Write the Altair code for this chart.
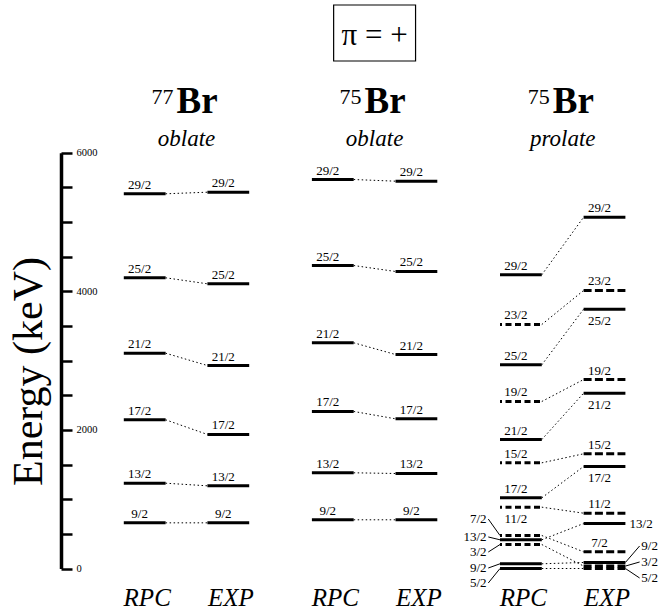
import altair as alt
import pandas as pd

# ---- level energies (keV) ----
oblate_spins = ["9/2", "13/2", "17/2", "21/2", "25/2", "29/2"]
br77_oblate_rpc = [659, 1231, 2146, 3107, 4195, 5407]
br77_oblate_exp = [659, 1193, 1934, 2929, 4108, 5430]
br75_oblate_rpc = [703, 1381, 2266, 3257, 4372, 5613]
br75_oblate_exp = [703, 1371, 2160, 3088, 4286, 5589]

prolate_spins = ["5/2", "9/2", "3/2", "13/2", "7/2", "11/2", "17/2",
                 "15/2", "21/2", "19/2", "25/2", "23/2", "29/2"]
br75_prolate_rpc = [0, 68, 346, 414, 476, 885, 1020, 1525, 1861, 2410, 2939, 3521, 4238]
br75_prolate_exp = [0, 87, 35, 649, 241, 798, 1472, 1655, 2530, 2727, 3742, 4012, 5069]

# unfavoured-signature members are drawn dashed
prolate_dashed_rpc = ["3/2", "7/2", "11/2", "15/2", "19/2", "23/2"]
prolate_dashed_exp = ["5/2", "3/2", "7/2", "11/2", "15/2", "19/2", "23/2"]

nuclei = ["77", "75", "75"]
shapes = ["oblate", "oblate", "prolate"]
methods = ["RPC", "EXP"]
axis_ticks = list(range(0, 6001, 500))

# ---- label placement in the crowded prolate scheme ----
# "lead" labels sit away from the level (position in keV) joined by a leader line
prolate_place_rpc = {"11/2": ("below", None), "7/2": ("lead", 714), "13/2": ("lead", 455),
                     "3/2": ("lead", 238), "9/2": ("lead", 7), "5/2": ("lead", -209)}
prolate_place_exp = {"25/2": ("below", None), "21/2": ("below", None), "17/2": ("below", None),
                     "13/2": ("right", None), "9/2": ("lead", 325), "3/2": ("lead", 94),
                     "5/2": ("lead", -137)}

GROUP_STEP = 2.25   # horizontal distance between schemes, in column units
HALF = 0.25         # half length of a level line

rows = []


def add_levels(g, s, spins, energies, dashed, place):
    u = GROUP_STEP * g + s
    for sp, e in zip(spins, energies):
        kind, lab_e = place.get(sp, ("above", None))
        if kind == "lead":
            lead_from = u - HALF if s == 0 else u + HALF
            lead_to = u - HALF - 0.14 if s == 0 else u + HALF + 0.17
            lab_u = u - HALF - 0.16 if s == 0 else u + HALF + 0.19
        else:
            lead_from = lead_to = lab_u = None
        rows.append(dict(g=g, side=methods[s], spin=sp, E=e, u=u,
                         x1=u - HALF, x2=u + HALF, lab_x=u - 0.06,
                         right_x=u + HALF + 0.05,
                         dashed=sp in dashed, place=kind, labE=lab_e,
                         lead_from=lead_from, lead_to=lead_to, lab_u=lab_u))


add_levels(0, 0, oblate_spins, br77_oblate_rpc, [], {})
add_levels(0, 1, oblate_spins, br77_oblate_exp, [], {})
add_levels(1, 0, oblate_spins, br75_oblate_rpc, [], {})
add_levels(1, 1, oblate_spins, br75_oblate_exp, [], {})
add_levels(2, 0, prolate_spins, br75_prolate_rpc, prolate_dashed_rpc, prolate_place_rpc)
add_levels(2, 1, prolate_spins, br75_prolate_exp, prolate_dashed_exp, prolate_place_exp)

levels = pd.DataFrame(rows)

# dotted links between calculated and measured levels of equal spin
rpc = levels[levels.side == "RPC"][["g", "spin", "E", "x2"]]
exp = levels[levels.side == "EXP"][["g", "spin", "E", "x1"]]
links = rpc.merge(exp, on=["g", "spin"], suffixes=("_rpc", "_exp"))

heads = pd.DataFrame({
    "mid": [GROUP_STEP * g + 0.5 for g in range(3)],
    "A": nuclei,
    "shape": shapes,
})
cols = pd.DataFrame({
    "u": [GROUP_STEP * g + s + 0.03 for g in range(3) for s in range(2)],
    "name": [methods[s] for g in range(3) for s in range(2)],
})

xs = alt.Scale(domain=[0, 1], range=[144.7, 228.3], zero=False, nice=False)
ys = alt.Scale(domain=[0, 6000], range=[568.5, 152.7], zero=False, nice=False)

SERIF = "Liberation Serif"
AXIS_OFFSET = -602   # pulls the energy axis in from the right edge

y_axis = alt.Axis(
    orient="right", offset=AXIS_OFFSET, values=axis_ticks, format="d",
    labelExpr="datum.value % 2000 === 0 ? datum.label : ''",
    grid=False, domain=True, domainWidth=3.5, domainColor="black",
    tickWidth=2.5, tickSize=11, tickColor="black",
    labelFont=SERIF, labelFontSize=10.5, labelColor="black", labelPadding=4,
    labelBaseline="middle", zindex=1,
    title="Energy (keV)", titleFont=SERIF, titleFontSize=42,
    titleFontWeight="normal", titleColor="black", titleAngle=270,
    titleX=-33, titleY=371, titleAlign="center", titleBaseline="middle",
)

X = lambda f: alt.X(f, scale=xs, axis=None)
Y = lambda f: alt.Y(f, scale=ys)

base = alt.Chart(levels)

solid = base.transform_filter("!datum.dashed").mark_rule(
    color="black", strokeWidth=3).encode(
    x=X("x1:Q"), x2="x2:Q",
    y=alt.Y("E:Q", scale=ys, axis=y_axis),
)
dashed_rpc = base.transform_filter("datum.dashed && datum.side == 'RPC'").mark_rule(
    color="black", strokeWidth=3, strokeDash=[6, 3.5], strokeDashOffset=4).encode(
    x=X("x1:Q"), x2="x2:Q", y=Y("E:Q"),
)
dashed_exp = base.transform_filter("datum.dashed && datum.side == 'EXP'").mark_rule(
    color="black", strokeWidth=3, strokeDash=[8, 3.3]).encode(
    x=X("x1:Q"), x2="x2:Q", y=Y("E:Q"),
)

link = alt.Chart(links).mark_rule(
    color="black", strokeWidth=1, strokeDash=[1.5, 2.5]).encode(
    x=X("x2:Q"), x2="x1:Q", y=Y("E_rpc:Q"), y2="E_exp:Q",
)

lab_font = dict(font=SERIF, fontSize=13, color="black")

above = base.transform_filter("datum.place == 'above'").mark_text(
    baseline="alphabetic", align="center", dy=-5, **lab_font).encode(
    x=X("lab_x:Q"), y=Y("E:Q"), text="spin:N",
)
below = base.transform_filter("datum.place == 'below'").mark_text(
    baseline="top", align="center", dy=6, **lab_font).encode(
    x=X("lab_x:Q"), y=Y("E:Q"), text="spin:N",
)
right = base.transform_filter("datum.place == 'right'").mark_text(
    baseline="middle", align="left", **lab_font).encode(
    x=X("right_x:Q"), y=Y("E:Q"), text="spin:N",
)
lead_rpc = base.transform_filter("datum.place == 'lead' && datum.side == 'RPC'").mark_text(
    baseline="middle", align="right", **lab_font).encode(
    x=X("lab_u:Q"), y=Y("labE:Q"), text="spin:N",
)
lead_exp = base.transform_filter("datum.place == 'lead' && datum.side == 'EXP'").mark_text(
    baseline="middle", align="left", **lab_font).encode(
    x=X("lab_u:Q"), y=Y("labE:Q"), text="spin:N",
)
leaders = base.transform_filter("datum.place == 'lead'").mark_rule(
    color="black", strokeWidth=1).encode(
    x=X("lead_from:Q"), x2="lead_to:Q", y=Y("E:Q"), y2="labE:Q",
)

hb = alt.Chart(heads)
head_br = hb.mark_text(font=SERIF, fontSize=37, fontWeight="bold", align="left",
                       baseline="alphabetic", dx=-10, color="black").encode(
    x=X("mid:Q"), y=alt.value(113), text=alt.value("Br"))
head_a = hb.mark_text(font=SERIF, fontSize=22, align="right",
                      baseline="alphabetic", dx=-13, color="black").encode(
    x=X("mid:Q"), y=alt.value(104), text="A:N")
head_shape = hb.mark_text(font=SERIF, fontSize=23, fontStyle="italic", align="center",
                          baseline="alphabetic", color="black").encode(
    x=X("mid:Q"), y=alt.value(146), text="shape:N")

col_names = alt.Chart(cols).mark_text(
    font=SERIF, fontSize=25, fontStyle="italic", align="center",
    baseline="alphabetic", color="black").encode(
    x=X("u:Q"), y=alt.value(606), text="name:N")

parity = pd.DataFrame({"left": [2.26], "right": [3.24], "mid": [2.75], "txt": ["π = +"]})
box = alt.Chart(parity).mark_rect(fill="white", stroke="black", strokeWidth=1.2).encode(
    x=X("left:Q"), x2="right:Q", y=alt.value(5), y2=alt.value(61))
box_txt = alt.Chart(parity).mark_text(font=SERIF, fontSize=31, align="center",
                                      baseline="alphabetic", color="black").encode(
    x=X("mid:Q"), y=alt.value(45), text="txt:N")

chart = alt.layer(
    solid, dashed_rpc, dashed_exp, link, above, below, right,
    lead_rpc, lead_exp, leaders, head_br, head_a, head_shape, col_names,
    box, box_txt,
).properties(
    width=663, height=611,
    autosize=alt.AutoSizeParams(type="none"), padding=0,
    background="white",
).configure_view(stroke=None)

chart.save("out.html", embed_options={"renderer": "svg", "actions": False})
